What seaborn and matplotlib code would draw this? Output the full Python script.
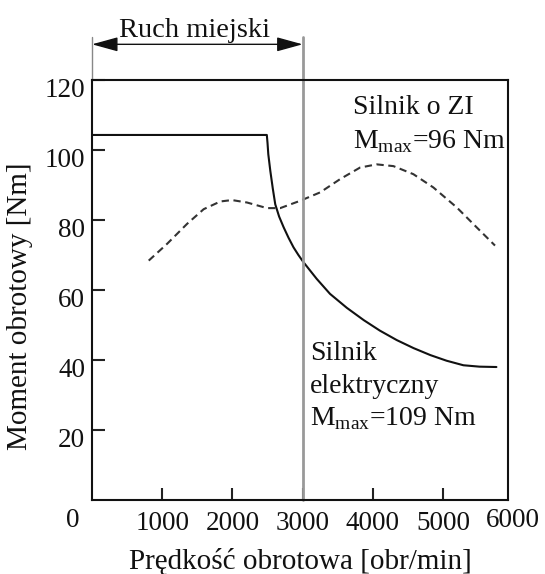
import numpy as np
import matplotlib
matplotlib.use("Agg")
import matplotlib.pyplot as plt
import matplotlib.transforms as mtransforms
import seaborn as sns

# predkosc obrotowa [obr/min] i moment [Nm]
rpm_elektryczny = [0, 2490, 2500, 2511, 2540, 2575, 2610, 2665, 2730, 2800, 2870, 2940, 3010,
                   3200, 3390, 3630, 3870, 4100, 4340, 4580, 4820, 5050, 5290, 5520, 5760]
moment_elektryczny = [104.3, 104.3, 102.0, 98.8, 94.0, 89.0, 84.5, 81.0, 77.9, 74.9, 72.2, 70.0, 68.0,
                      63.2, 58.9, 54.9, 51.4, 48.4, 45.7, 43.4, 41.4, 39.8, 38.5, 38.1, 38.0]

rpm_zi = [808, 1070, 1354, 1591, 1828, 1994, 2208, 2492, 2681, 2966, 3250, 3535, 3819,
          4056, 4293, 4577, 4862, 5195, 5479, 5740]
moment_zi = [68.4, 73.2, 78.9, 83.1, 85.3, 85.7, 85.0, 83.4, 83.4, 85.5, 87.9, 91.7, 95.0,
             95.9, 95.4, 93.1, 89.3, 83.6, 77.9, 72.7]

x_ticks = [1000, 2000, 3000, 4000, 5000]
y_ticks = [20, 40, 60, 80, 100, 120]
ruch_miejski = 3000

sns.set_theme(style="ticks")
plt.rcParams["font.family"] = ["Liberation Serif", "DejaVu Serif"]
plt.rcParams["mathtext.fontset"] = "custom"
plt.rcParams["mathtext.rm"] = "Liberation Serif"

fig = plt.figure(figsize=(5.45, 5.74), dpi=100)
ax = fig.add_axes([0.1688, 0.1289, 0.7633, 0.7317])

sns.lineplot(x=rpm_elektryczny, y=moment_elektryczny, ax=ax, color="#111111",
             linewidth=1.5, estimator=None, sort=False)
sns.lineplot(x=rpm_zi, y=moment_zi, ax=ax, color="#333333", linewidth=1.5,
             linestyle=(0, (3.5, 2.2)), estimator=None, sort=False)

ax.set_xlim(0, 5925)
ax.set_ylim(0, 120)
ax.set_xticks(x_ticks)
ax.set_yticks(y_ticks)
ax.tick_params(direction="in", length=9, width=1.5, color="#222222",
               labelsize=19.5, labelcolor="#111111")
ax.tick_params(axis="x", pad=8)
ax.tick_params(axis="y", pad=5)
for lab in ax.get_yticklabels():
    lab.set_transform(lab.get_transform() +
                      mtransforms.ScaledTranslation(0, -7 / 100, fig.dpi_scale_trans))
for s in ax.spines.values():
    s.set_color("#111111")
    s.set_linewidth(1.5)

ax.annotate("0", xy=(0, 0), xytext=(-19, -20), textcoords="offset pixels",
            ha="center", va="center", fontsize=19.5, color="#111111", annotation_clip=False)
ax.annotate("6000", xy=(6000, 0), xytext=(0, -20), textcoords="offset pixels",
            ha="center", va="center", fontsize=19.5, color="#111111", annotation_clip=False)

ax.set_xlabel("Prędkość obrotowa [obr/min]", fontsize=21, color="#111111")
ax.set_ylabel("Moment obrotowy [Nm]", fontsize=21, color="#111111")
ax.xaxis.set_label_coords(0.5, -0.115)
ax.yaxis.set_label_coords(-0.142, 0.462)

# zakres ruchu miejskiego
ax.plot([ruch_miejski, ruch_miejski], [0, 132.4], color="#999999", lw=2, clip_on=False)
ax.plot([0, 0], [120, 132.4], color="#888888", lw=1, clip_on=False)
ax.annotate("", xy=(0, 130.2), xytext=(ruch_miejski, 130.2), annotation_clip=False,
            arrowprops=dict(arrowstyle="<|-|>,head_length=0.8,head_width=0.22",
                            color="#111111", lw=1, mutation_scale=20, shrinkA=0, shrinkB=0))
ax.text(1458, 132.4, "Ruch miejski", ha="center", va="baseline", fontsize=20.5,
        color="#111111", clip_on=False)

ax.text(3720, 110.2, "Silnik o ZI", fontsize=20, va="baseline", color="#111111")
ax.text(3720, 100.6, r"M$_{\mathrm{max}}$=96 Nm", fontsize=20, va="baseline", color="#111111")
ax.text(3108, 40.0, "Silnik", fontsize=20, va="baseline", color="#111111")
ax.text(3108, 30.6, "elektryczny", fontsize=20, va="baseline", color="#111111")
ax.text(3108, 21.5, r"M$_{\mathrm{max}}$=109 Nm", fontsize=20, va="baseline", color="#111111")

fig.savefig("out.png", dpi=100)
plt.close(fig)
